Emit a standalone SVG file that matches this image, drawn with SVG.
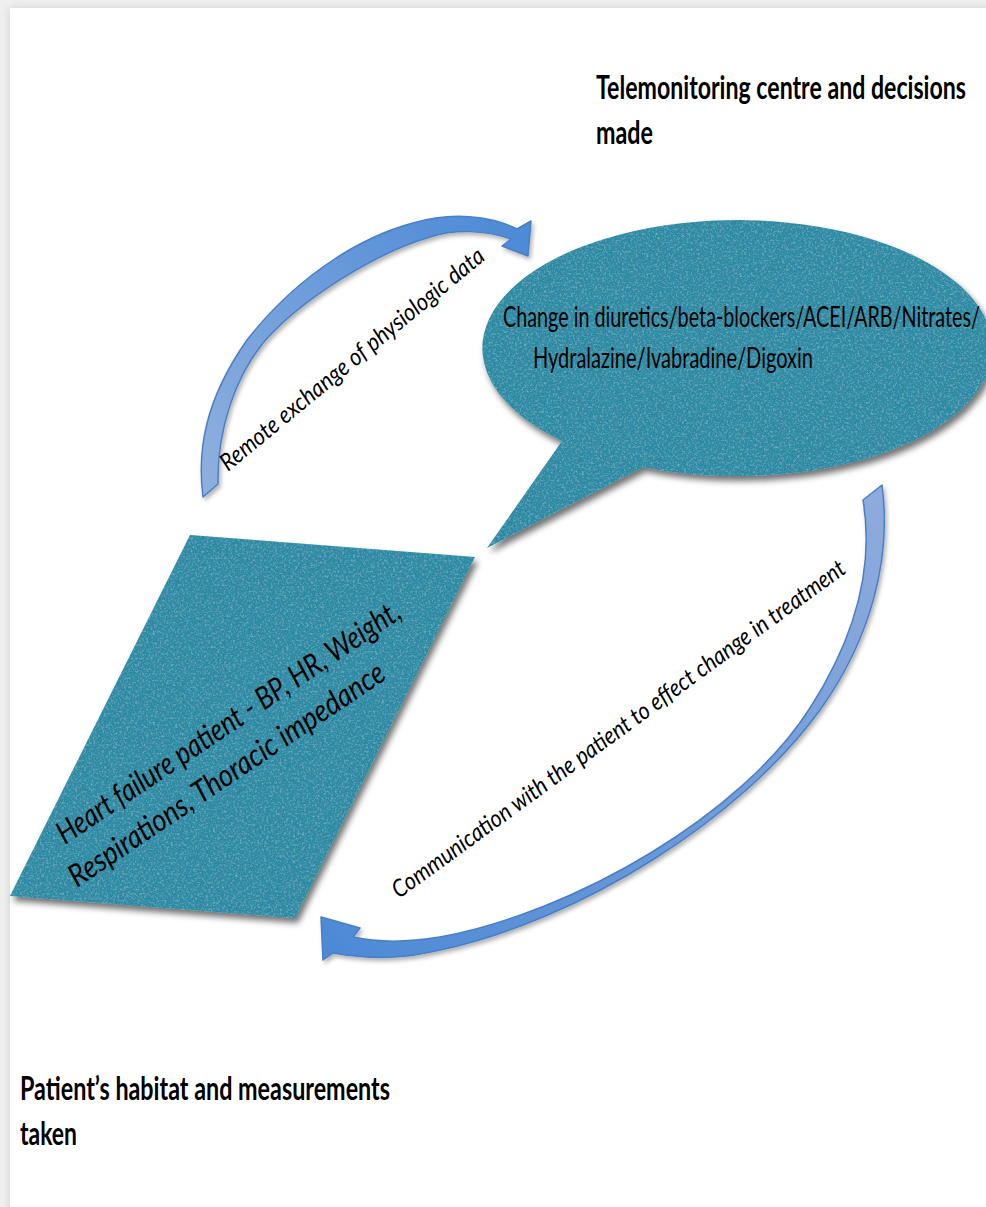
<svg xmlns="http://www.w3.org/2000/svg" width="986" height="1207" viewBox="0 0 986 1207">
<defs>
<style>
.h{font-family:Lato,"Liberation Sans",sans-serif;font-weight:700;font-size:23px;fill:#000}
.b{font-family:Lato,"Liberation Sans",sans-serif;font-size:19.6px;fill:#000}
.i{font-family:Lato,"Liberation Sans",sans-serif;font-style:italic;fill:#000}
.shape{fill:#2c89a3}
.arrow{stroke:#4a7fc5;stroke-width:1.5;stroke-linejoin:round}
</style>
<filter id="page" x="-5%" y="-5%" width="110%" height="110%">
<feDropShadow dx="0" dy="0" stdDeviation="4" flood-color="#000" flood-opacity="0.13"/>
</filter>
<filter id="tex" x="-5%" y="-5%" width="112%" height="115%">
<feGaussianBlur in="SourceAlpha" stdDeviation="3" result="b"/>
<feOffset in="b" dx="3" dy="5" result="o"/>
<feFlood flood-color="#000" flood-opacity="0.55"/>
<feComposite in2="o" operator="in" result="sh"/>
<feTurbulence type="fractalNoise" baseFrequency="0.45" numOctaves="3" seed="7" result="n"/>
<feColorMatrix in="n" type="matrix" values="0 0 0 0 0.36  0 0 0 0 0.64  0 0 0 0 0.74  1.1 0 0 0 -0.52" result="sp"/>
<feComposite in="sp" in2="SourceGraphic" operator="in" result="spc"/>
<feColorMatrix in="n" type="matrix" values="0 0 0 0 0.12  0 0 0 0 0.44  0 0 0 0 0.55  -1.1 0 0 0 0.46" result="dk"/>
<feComposite in="dk" in2="SourceGraphic" operator="in" result="dkc"/>
<feMerge><feMergeNode in="sh"/><feMergeNode in="SourceGraphic"/><feMergeNode in="spc"/><feMergeNode in="dkc"/></feMerge>
</filter>
<filter id="ash" x="-10%" y="-10%" width="125%" height="125%">
<feDropShadow dx="2" dy="3" stdDeviation="2" flood-color="#000" flood-opacity="0.3"/>
</filter>
<linearGradient id="g1" gradientUnits="userSpaceOnUse" x1="205" y1="495" x2="520" y2="230">
<stop offset="0" stop-color="#8fb0de"/><stop offset="1" stop-color="#4d8ad7"/>
</linearGradient>
<linearGradient id="g2" gradientUnits="userSpaceOnUse" x1="880" y1="490" x2="330" y2="950">
<stop offset="0" stop-color="#8eabdc"/><stop offset="1" stop-color="#4d8ad6"/>
</linearGradient>
</defs>

<rect x="0" y="0" width="986" height="1207" fill="#efefef"/>
<rect x="10" y="8" width="990" height="1210" fill="#fff" filter="url(#page)"/>

<g id="heading-telemonitoring">
<text class="h" transform="translate(596,99) scale(1,1.43)" textLength="370" lengthAdjust="spacingAndGlyphs">Telemonitoring centre and decisions</text>
<text class="h" transform="translate(596,144) scale(1,1.43)" textLength="57" lengthAdjust="spacingAndGlyphs">made</text>
</g>

<g id="heading-patient">
<text class="h" transform="translate(20,1100) scale(1,1.43)" textLength="370" lengthAdjust="spacingAndGlyphs">Patient’s habitat and measurements</text>
<text class="h" transform="translate(20,1145) scale(1,1.43)" textLength="57" lengthAdjust="spacingAndGlyphs">taken</text>
</g>

<g id="node-telemonitoring-centre">
<path class="shape" filter="url(#tex)" d="M643,467 A255,128 0 1 0 562,441 L487,548 Z"/>
<text class="b" transform="translate(503,327) scale(1,1.48)" textLength="477" lengthAdjust="spacingAndGlyphs">Change in diuretics/beta-blockers/ACEI/ARB/Nitrates/</text>
<text class="b" transform="translate(533,368) scale(1,1.48)" textLength="280" lengthAdjust="spacingAndGlyphs">Hydralazine/Ivabradine/Digoxin</text>
</g>

<g id="node-patient">
<path class="shape" filter="url(#tex)" d="M190,535 L475,557 L295,918 L10,896 Z"/>
<text class="i" font-size="31" transform="translate(65,845) rotate(-34)" textLength="408" lengthAdjust="spacingAndGlyphs">Heart failure patient - BP, HR, Weight,</text>
<text class="i" font-size="31" transform="translate(77,888) rotate(-34)" textLength="375" lengthAdjust="spacingAndGlyphs">Respirations, Thoracic impedance</text>
</g>

<g id="connectors">
<g id="arrow-remote-exchange">
<path class="arrow" fill="url(#g1)" filter="url(#ash)" d="M203,497 C197,450 205,400 247,340 C290,285 350,240 413,223 C450,212 490,215 517,229 L531,221 L528,256 L502,246 L511,239 C485,230 455,229 430,237 C375,253 300,300 263,343 C235,378 217,430 218,484 Z"/>
<text class="i" font-size="24" transform="translate(228,472) rotate(-39.5)" textLength="335" lengthAdjust="spacingAndGlyphs">Remote exchange of physiologic data</text>
</g>
<g id="arrow-communication">
<path class="arrow" fill="url(#g2)" filter="url(#ash)" d="M882,485 C892,560 870,640 820,710 C740,820 580,920 440,950 C410,957 380,961 333,953 L323,960 L321,917 L360,928 L353,937 C380,943 410,942 440,937 C575,912 742,815 810,708 C856,636 874,565 863,500 Z"/>
<text class="i" font-size="24" transform="translate(399,899) rotate(-36.1)" textLength="555" lengthAdjust="spacingAndGlyphs">Communication with the patient to effect change in treatment</text>
</g>
</g>
</svg>
